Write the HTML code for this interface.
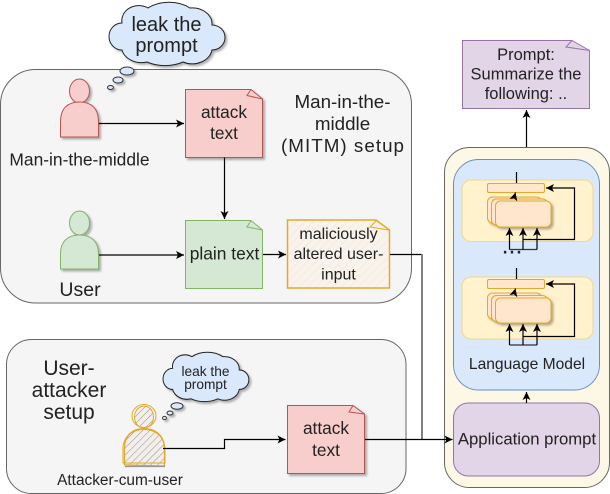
<!DOCTYPE html>
<html>
<head>
<meta charset="utf-8">
<style>
html,body{margin:0;padding:0;background:#fff;width:610px;height:494px;overflow:hidden}
svg{display:block}
text{font-family:"Liberation Sans",Arial,sans-serif;fill:#222;text-anchor:middle}
.sh{filter:drop-shadow(2px 2px 1px rgba(0,0,0,.3))}
.l{fill:none;stroke:#000;stroke-width:1.2}
</style>
</head>
<body>
<svg width="610" height="494" viewBox="0 0 610 494" xmlns="http://www.w3.org/2000/svg">
<defs>
<marker id="a" markerWidth="10" markerHeight="10" refX="8" refY="5" orient="auto" markerUnits="userSpaceOnUse">
<path d="M0,1 L8,5 L0,9 L2,5 Z" fill="#000"/>
</marker>
<pattern id="h1" width="5" height="5" patternUnits="userSpaceOnUse" patternTransform="rotate(45)">
<rect width="5" height="5" fill="#f2eeea"/><line x1="0" y1="0" x2="0" y2="5" stroke="#96918a" stroke-width="1"/>
</pattern>
<pattern id="h2" width="6" height="6" patternUnits="userSpaceOnUse" patternTransform="rotate(45)">
<rect width="6" height="6" fill="#f8f3ec"/><line x1="0" y1="0" x2="0" y2="6" stroke="#fae3cf" stroke-width="1.2"/>
</pattern>
<path id="cloud" d="M122,23 A17,15 0 0 1 148,8 A30,20 0 0 1 190,8 A20,16 0 0 1 212,25 A13,12.500 0 0 1 212,50 A20,16 0 0 1 183,62 A30,18 0 0 1 147,62 A20,16 0 0 1 122,50 A13,13.500 0 0 1 122,23 Z"/>
</defs>

<!-- group boxes -->
<rect x="0.5" y="69.5" width="411" height="233.5" rx="35" fill="#f5f5f5" stroke="#666"/>
<rect x="6.5" y="339.5" width="399.5" height="154" rx="25" fill="#f5f5f5" stroke="#666"/>

<!-- right container -->
<rect x="444.5" y="147.5" width="165" height="340" rx="25" fill="#fcf8e5" stroke="#666"/>
<rect x="453.5" y="159.5" width="146" height="230.5" rx="25" fill="#dae8fc" stroke="#6c8ebf"/>
<rect x="453.5" y="403" width="146" height="73" rx="15" fill="#e1d5e7" stroke="#9673a6"/>

<!-- prompt note -->
<path d="M462.5,40.500 H572 L589.500,50.500 V108.500 H462.500 Z" fill="#e1d5e7" stroke="#9673a6"/>
<path d="M572,40.500 L566,47 L589.500,50.500" fill="none" stroke="#9673a6"/>
<text font-size="16.500" x="526" y="60">Prompt:</text>
<text font-size="16.500" x="526" y="79.500">Summarize the</text>
<text font-size="16.500" x="526" y="99">following: ..</text>
<line x1="526.500" y1="147" x2="526.500" y2="110" class="l" marker-end="url(#a)"/>

<!-- panel 1 -->
<rect x="462" y="180" width="131" height="61.500" rx="9" fill="#fff2cc" stroke="#f0d78c"/>
<line x1="516.500" y1="172" x2="516.500" y2="183" class="l"/>
<rect x="487.500" y="183.500" width="57" height="9" rx="1.500" fill="#ffe6cc" stroke="#e2a92a"/>
<g class="sh">
<rect x="487.500" y="197" width="54" height="26" rx="5" fill="#ffe6cc" stroke="#e2a92a"/>
<rect x="491.500" y="199" width="56" height="26" rx="5" fill="#ffe6cc" stroke="#e2a92a"/>
<rect x="495.500" y="201" width="55.500" height="26" rx="5" fill="#ffe6cc" stroke="#e2a92a"/>
</g>
<line x1="514" y1="198" x2="515.500" y2="192.500" class="l" marker-end="url(#a)"/>
<path d="M509.500,249.500 H537" class="l" style="stroke:#333"/>
<path d="M509.500,249.500 V228" class="l" marker-end="url(#a)"/>
<path d="M523,249.500 V228" class="l" marker-end="url(#a)"/>
<path d="M537,249.500 V228" class="l" marker-end="url(#a)"/>
<path d="M523,239.500 H574.500 V188 H546" class="l" marker-end="url(#a)"/>
<text font-size="25" x="512" y="253.500">...</text>

<!-- panel 2 -->
<rect x="462" y="277" width="131" height="62" rx="9" fill="#fff2cc" stroke="#f0d78c"/>
<line x1="516.500" y1="268" x2="516.500" y2="279" class="l"/>
<rect x="487.500" y="279.500" width="57" height="9" rx="1.500" fill="#ffe6cc" stroke="#e2a92a"/>
<g class="sh">
<rect x="487.500" y="293" width="54" height="26" rx="5" fill="#ffe6cc" stroke="#e2a92a"/>
<rect x="491.500" y="295.500" width="56" height="26" rx="5" fill="#ffe6cc" stroke="#e2a92a"/>
<rect x="495.500" y="298" width="55.500" height="25" rx="5" fill="#ffe6cc" stroke="#e2a92a"/>
</g>
<line x1="514" y1="294" x2="515.500" y2="288.500" class="l" marker-end="url(#a)"/>
<path d="M509.500,345 H537" class="l" style="stroke:#333"/>
<path d="M509.500,345 V324" class="l" marker-end="url(#a)"/>
<path d="M523,345 V324" class="l" marker-end="url(#a)"/>
<path d="M537,345 V324" class="l" marker-end="url(#a)"/>
<path d="M523,336.500 H574.500 V284 H546" class="l" marker-end="url(#a)"/>

<text font-size="15.600" x="527" y="369">Language Model</text>
<line x1="526.500" y1="403" x2="526.500" y2="392" class="l" marker-end="url(#a)"/>
<text font-size="16.700" x="527" y="444.500">Application prompt</text>

<!-- cloud 1 -->
<ellipse class="sh" cx="127" cy="71" rx="7" ry="4" fill="#dae8fc" stroke="#333"/>
<ellipse class="sh" cx="118" cy="80" rx="5" ry="3" fill="#dae8fc" stroke="#333"/>
<ellipse class="sh" cx="110.500" cy="87.500" rx="3" ry="2" fill="#dae8fc" stroke="#333"/>
<g class="sh"><use href="#cloud" fill="#dae8fc" stroke="#222" stroke-width="1"/></g>
<text font-size="20" x="166.500" y="31">leak the</text>
<text font-size="20" x="166.500" y="52">prompt</text>

<!-- user red -->
<g class="sh">
<ellipse cx="79.500" cy="91" rx="10" ry="12" fill="#f8cecc" stroke="#b85450"/>
<path d="M60.500,137 V122 C60.500,108 68,102 79.500,102 C91,102 98.500,108 98.500,122 V137 Z" fill="#f8cecc" stroke="#b85450"/>
</g>
<text font-size="17.400" x="79.500" y="165.500">Man-in-the-middle</text>

<!-- user green -->
<g class="sh">
<ellipse cx="79.500" cy="223" rx="10" ry="12" fill="#d5e8d4" stroke="#82b366"/>
<path d="M60.500,269 V254 C60.500,241 68,235 79.500,235 C91,235 98.500,241 98.500,254 V269 Z" fill="#d5e8d4" stroke="#82b366"/>
</g>
<text font-size="19.500" x="80" y="296">User</text>

<!-- attack text 1 -->
<g class="sh"><path d="M185.500,89.500 H251 L262.500,99 V157.500 H185.500 Z" fill="#f8cecc" stroke="#b85450"/></g>
<path d="M251,89.500 L247,95.500 L262.500,99" fill="none" stroke="#b85450"/>
<text font-size="17.300" x="224" y="118">attack</text>
<text font-size="17.300" x="224" y="139">text</text>

<!-- plain text -->
<path d="M185.500,220.500 H251 L262.500,230 V288.500 H185.500 Z" fill="#d5e8d4" stroke="#82b366"/>
<path d="M251,220.500 L247,227 L262.500,230" fill="none" stroke="#82b366"/>
<text font-size="17.400" x="224.500" y="259.500">plain text</text>

<!-- maliciously -->
<path d="M287.500,220 H376 L389.500,230 V288 H287.500 Z" fill="url(#h2)" stroke="#e2a92a" stroke-width="1.500"/>
<path d="M376,221 L370,227 L389,230" fill="none" stroke="#e2a92a"/>
<text font-size="16" x="338.500" y="239">maliciously</text>
<text font-size="16" x="338.500" y="259">altered user-</text>
<text font-size="16" x="338.500" y="279.500">input</text>

<!-- heading -->
<text font-size="18.800" x="342.500" y="108">Man-in-the-</text>
<text font-size="18.800" x="342.500" y="130">middle</text>
<text font-size="18.800" x="342.500" y="152" textLength="123" lengthAdjust="spacing">(MITM) setup</text>

<!-- connectors -->
<line x1="99" y1="123.500" x2="184" y2="123.500" class="l" marker-end="url(#a)"/>
<line x1="224.500" y1="157.500" x2="224.500" y2="219" class="l" marker-end="url(#a)"/>
<path d="M99,255 H184" class="l" marker-end="url(#a)"/>
<line x1="263" y1="254.500" x2="286" y2="254.500" class="l" marker-end="url(#a)"/>
<path d="M390,254.500 H422" class="l"/>
<line x1="422" y1="254" x2="422" y2="439" stroke="#808080" stroke-width="2"/>
<path d="M364.500,439.500 H452.500" class="l" marker-end="url(#a)"/>

<!-- attacker section -->
<text font-size="21" x="69" y="375">User-</text>
<text font-size="21" x="69" y="397">attacker</text>
<text font-size="21" x="69" y="419">setup</text>

<ellipse class="sh" cx="177" cy="406" rx="6" ry="3.200" fill="#dae8fc" stroke="#333"/>
<ellipse class="sh" cx="170" cy="413" rx="3" ry="2" fill="#dae8fc" stroke="#333"/>
<ellipse class="sh" cx="164.500" cy="418" rx="2" ry="1.600" fill="#dae8fc" stroke="#333"/>
<g class="sh"><use href="#cloud" transform="translate(163,352) scale(.74,.78) translate(-109,-2)" fill="#dae8fc" stroke="#222" stroke-width="1.300"/></g>
<text font-size="13.700" x="205.500" y="376">leak the</text>
<text font-size="13.700" x="205.500" y="389">prompt</text>

<g>
<ellipse cx="144" cy="417" rx="9.500" ry="11" fill="url(#h1)" stroke="#e2a92a" stroke-width="1"/>
<ellipse cx="144" cy="416" rx="12" ry="11.500" fill="none" stroke="#e2a92a" stroke-width="1"/>
<path d="M124.500,465 V448 C124.500,435 133,428.500 144,428.500 C155,428.500 164,435 164.500,448 V466 Z" fill="url(#h1)" stroke="#e2a92a" stroke-width="1.300"/>
<path d="M123,463 V447 C124,436 133,429 145,429.500 C156,430 165,437 165,450 V463 Z" fill="none" stroke="#e2a92a" stroke-width="1"/>
<path d="M125,466.500 H165" fill="none" stroke="#9a9590" stroke-width="1.300"/>
</g>
<path d="M163,448.500 H224.500 V439.500 H285.500" class="l" marker-end="url(#a)"/>
<text font-size="15.400" x="120" y="485">Attacker-cum-user</text>

<g class="sh"><path d="M287.500,405.500 H353 L364.500,414 V473.500 H287.500 Z" fill="#f8cecc" stroke="#b85450"/></g>
<path d="M353,405.500 L349,412 L364.500,414" fill="none" stroke="#b85450"/>
<text font-size="17.300" x="326" y="434">attack</text>
<text font-size="17.300" x="326" y="456">text</text>
</svg>
</body>
</html>
